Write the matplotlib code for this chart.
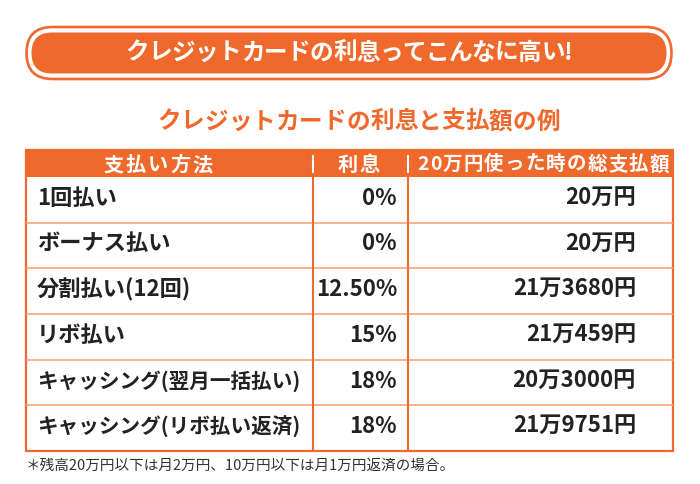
import matplotlib
matplotlib.use("Agg")
import matplotlib.pyplot as plt
from matplotlib.patches import FancyBboxPatch, Rectangle

plt.rcParams['font.family'] = ['Noto Sans CJK JP', 'DejaVu Sans']

# ---- data ----
banner_title = "クレジットカードの利息ってこんなに高い!"
table_title = "クレジットカードの利息と支払額の例"
headers = ["支払い方法", "利息", "20万円使った時の総支払額"]
methods = ["1回払い", "ボーナス払い", "分割払い(12回)", "リボ払い",
           "キャッシング(翌月一括払い)", "キャッシング(リボ払い返済)"]
rates = ["0%", "0%", "12.50%", "15%", "18%", "18%"]
totals = ["20万円", "20万円", "21万3680円", "21万459円", "20万3000円", "21万9751円"]
footnote = "＊残高20万円以下は月2万円、10万円以下は月1万円返済の場合。"

ORANGE = "#F0692C"
LIGHT = "#F7A47E"
DARK = "#222222"

W, H = 700, 484
fig = plt.figure(figsize=(W / 100, H / 100), dpi=100)
ax = fig.add_axes([0, 0, 1, 1])
ax.set_xlim(0, W)
ax.set_ylim(H, 0)
ax.axis('off')
renderer = fig.canvas.get_renderer()


def measure(s, size, weight='bold'):
    t = ax.text(0, 0, s, fontsize=size, fontweight=weight)
    w = t.get_window_extent(renderer).width
    t.remove()
    return w


def spaced(s, x0, x1, y, size, color, weight='bold'):
    """Draw string s so it spans x0..x1 with even letter spacing."""
    widths = [measure(ch, size, weight) for ch in s]
    total = sum(widths)
    gap = (x1 - x0 - total) / max(len(s) - 1, 1)
    x = x0
    for ch, w in zip(s, widths):
        ax.text(x + w / 2, y, ch, fontsize=size, fontweight=weight, color=color,
                ha='center', va='center')
        x += w + gap


# ---- banner ----
ax.add_patch(FancyBboxPatch((26.5, 27), 645, 52,
                            boxstyle="round,pad=0,rounding_size=26",
                            facecolor='white', edgecolor=ORANGE, linewidth=1.9))
ax.add_patch(FancyBboxPatch((31.5, 32.5), 635, 41,
                            boxstyle="round,pad=0,rounding_size=20.5",
                            facecolor=ORANGE, edgecolor='none'))
spaced(banner_title, 125, 573, 52.5, 17, 'white')

# ---- subtitle ----
spaced(table_title, 157, 560, 121.5, 17, ORANGE)

# ---- table ----
left, right = 26, 673
top, head_bot, bottom = 150, 177, 451
col_x = [313, 408]
n = len(methods)
row_h = (bottom - head_bot) / n

ax.add_patch(Rectangle((left, top), right - left, head_bot - top,
                       facecolor=ORANGE, edgecolor='none'))
for i in range(1, n):
    y = head_bot + i * row_h
    ax.plot([left, right], [y, y], color=LIGHT, lw=1.2, solid_capstyle='butt')
for cx in col_x:
    ax.plot([cx, cx], [head_bot, bottom], color=ORANGE, lw=1.5, solid_capstyle='butt')
    ax.plot([cx, cx], [155, 173], color='white', lw=1.5, solid_capstyle='butt')
ax.add_patch(Rectangle((left, top), right - left, bottom - top,
                       facecolor='none', edgecolor=ORANGE, linewidth=1.6))

# header texts
spaced(headers[0], 103, 213, 164.5, 14.5, 'white')
spaced(headers[1], 338, 380, 164.5, 14.5, 'white')
spaced(headers[2], 417, 669, 164.5, 14, 'white')

# body
BODY = 16
x_text = 37
limit = 300
for i in range(n):
    yc = head_bot + (i + 0.5) * row_h - 1.5
    nat = measure(methods[i], BODY)
    size = BODY if x_text + nat <= limit else BODY * (limit - x_text) / nat
    ax.text(x_text, yc, methods[i], fontsize=size, fontweight='bold', color=DARK,
            ha='left', va='center')
    ax.text(397, yc, rates[i], fontsize=BODY, fontweight='bold', color=DARK,
            ha='right', va='center')
    ax.text(636, yc, totals[i], fontsize=BODY, fontweight='bold', color=DARK,
            ha='right', va='center')

# footnote
ax.text(26, 466, footnote, fontsize=10.5, color='#333333', ha='left', va='center')

fig.savefig("out.png", dpi=100)
